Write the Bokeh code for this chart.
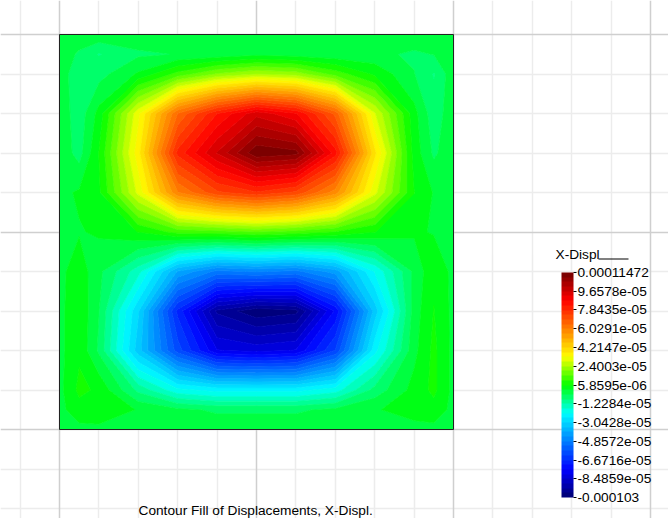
from bokeh.embed import file_html
from bokeh.resources import INLINE
from bokeh.plotting import figure
from bokeh.models import ColorBar, LinearColorMapper, FixedTicker, Grid, Label, BoxAnnotation, AllLabels
import numpy as np

# mesh node positions (model units)
x_nodes = [0, 0.5, 1, 2, 3, 4, 5, 6, 7, 8, 9, 9.5, 10]
y_nodes = [10, 9.5, 9, 8, 7, 6, 5, 4, 3, 2, 1, 0.5, 0]

# X displacement read at the nodes, in units of 1e-5, top row first
row_a = [0, 0, 0, 0, 0, 0, 0, 0, 0, 0, 0, 0, 0]
row_b = [0, -0.4, -0.8, -0.4, -0.3, -0.2, 0.0, -0.1, -0.2, -0.2, -0.4, -0.3, 0]
row_c = [0, -0.7, -0.5, 0.2, 1.2, 2.0, 2.4, 2.2, 1.3, 0.5, -0.3, -0.8, 0]
row_d = [0, -0.6, 0.3, 3.2, 6.5, 8.3, 9.5, 8.8, 6.8, 2.9, 0.3, -0.6, 0]
row_e = [0, -0.5, 0.6, 3.6, 8.0, 9.7, 11.4, 11.2, 8.5, 3.9, 0.4, -0.4, 0]
row_f = [0, 0.2, 0.5, 3.0, 6.0, 7.3, 7.8, 7.3, 5.8, 3.0, 0.6, 0.1, 0]
row_g = [0, 0.1, 0.2, 0.6, 1.2, 1.3, 1.5, 1.3, 1.0, 0.6, 0.2, 0.1, 0]
row_h = [0, 0.4, -0.2, -1.5, -4.0, -5.0, -4.8, -5.0, -4.2, -2.1, -0.2, 0.5, 0]
row_i = [0, 0.5, -0.3, -3.0, -6.8, -9.5, -10.2, -10.0, -7.5, -3.3, -0.1, 0.6, 0]
row_j = [0, 0.5, -0.4, -3.3, -6.0, -8.0, -8.2, -8.0, -6.2, -2.3, 0.0, 0.7, 0]
row_k = [0, 0.7, 0.5, -0.9, -2.0, -2.3, -2.3, -2.3, -1.9, -0.6, 0.3, 0.7, 0]
row_l = [0, 0.4, 0.5, 0.1, -0.2, -0.4, -0.4, -0.4, -0.2, 0.1, 0.3, 0.4, 0]
row_m = [0, 0, 0, 0, 0, 0, 0, 0, 0, 0, 0, 0, 0]

tick_labels = ["0.00011472", "9.6578e-05", "7.8435e-05", "6.0291e-05", "4.2147e-05",
               "2.4003e-05", "5.8595e-06", "-1.2284e-05", "-3.0428e-05", "-4.8572e-05",
               "-6.6716e-05", "-8.4859e-05", "-0.000103"]
title_text = "Contour Fill of Displacements, X-Displ."
legend_title = "X-Displ"

major_lines_x = [0, 5, 10, 15]
minor_lines_x = [-1, 1, 2, 3, 4, 6, 7, 8, 9, 11, 12, 13, 14]
major_lines_y = [0, 5, 10]
minor_lines_y = [-2, -1, 1, 2, 3, 4, 6, 7, 8, 9]

WIDTH, HEIGHT = 668, 518
PX_X, PX_Y = 39.4, 39.5
x0_px, y0_px = 59, 429   # model origin inside the figure

x_lo, x_hi = -x0_px / PX_X, (WIDTH - x0_px) / PX_X
y_lo, y_hi = (y0_px - HEIGHT) / PX_Y, y0_px / PX_Y
p = figure(width=WIDTH, height=HEIGHT, output_backend="svg", toolbar_location=None,
           x_range=(x_lo, x_hi), y_range=(y_lo, y_hi),
           x_axis_location=None, y_axis_location=None,
           min_border=0, outline_line_color=None, background_fill_color="white",
           styles={"position": "absolute", "left": "0px", "top": "0px"})
p.grid.visible = False

x_bounds = ((5 - x0_px) / PX_X, x_hi)
y_bounds = (y_lo, (y0_px - 3) / PX_Y)
for ticks, dim, col, w, bnd in [(minor_lines_x, 0, "#ececec", 1.5, y_bounds), (minor_lines_y, 1, "#ececec", 1.5, x_bounds),
                                (major_lines_x, 0, "#cfcfcf", 1.5, y_bounds), (major_lines_y, 1, "#cfcfcf", 1.5, x_bounds)]:
    p.add_layout(Grid(dimension=dim, ticker=FixedTicker(ticks=ticks),
                      grid_line_color=col, grid_line_width=w, bounds=bnd))

# jet-like colour ramp
stops_pos = [0.0, 0.125, 0.375, 0.5, 0.625, 0.875, 1.0]
stops_rgb = [(0, 0, 112), (0, 0, 255), (0, 255, 255), (0, 255, 0), (255, 255, 0), (255, 0, 0), (112, 0, 0)]
N_BANDS = 48
mids = (np.arange(N_BANDS) + 0.5) / N_BANDS
palette = ["#%02x%02x%02x" % tuple(int(round(np.interp(m, stops_pos, [c[i] for c in stops_rgb]))) for i in range(3))
           for m in mids]

tick_values = [float(t) for t in tick_labels]
low, high = tick_values[-1], tick_values[0]
levels = list(np.linspace(low, high, N_BANDS + 1))

field = np.array([row_a, row_b, row_c, row_d, row_e, row_f, row_g, row_h, row_i, row_j, row_k, row_l, row_m],
                 dtype=float)[::-1] * 1e-5
p.contour(x_nodes, y_nodes[::-1], field, levels, fill_color=palette, line_color=palette, line_width=1)

p.quad(left=[min(x_nodes)], right=[max(x_nodes)], bottom=[min(y_nodes)], top=[max(y_nodes)],
       fill_color=None, line_color="#222222", line_width=1)

mapper = LinearColorMapper(palette=palette, low=low, high=high)
cb = ColorBar(color_mapper=mapper, ticker=FixedTicker(ticks=tick_values),
              major_label_overrides=dict(zip(tick_values, tick_labels)),
              major_label_policy=AllLabels(),
              location=(561, 21), width=12, height=225, padding=0, margin=0,
              background_fill_alpha=0, border_line_color=None, bar_line_color=None,
              major_tick_line_color="black", major_tick_in=0, major_tick_out=3,
              minor_tick_line_color=None, label_standoff=1,
              major_label_text_font="Liberation Sans", major_label_text_font_size="13.7px",
              major_label_text_color="black")
p.add_layout(cb)

p.add_layout(Label(x=555, y=HEIGHT - 254, x_units="screen", y_units="screen", text=legend_title,
                   text_font="Liberation Sans", text_font_size="13.7px", text_color="black",
                   text_baseline="alphabetic"))
p.add_layout(BoxAnnotation(left=598, right=628, top=HEIGHT - 258, bottom=HEIGHT - 259,
                           left_units="screen", right_units="screen", top_units="screen", bottom_units="screen",
                           fill_color="black", fill_alpha=1, line_color=None))
p.add_layout(Label(x=138, y=HEIGHT - 510, x_units="screen", y_units="screen", text=title_text,
                   text_font="Liberation Sans", text_font_size="13.7px", text_color="black",
                   text_baseline="alphabetic"))

open("out.html", "w").write(file_html(p, INLINE))
